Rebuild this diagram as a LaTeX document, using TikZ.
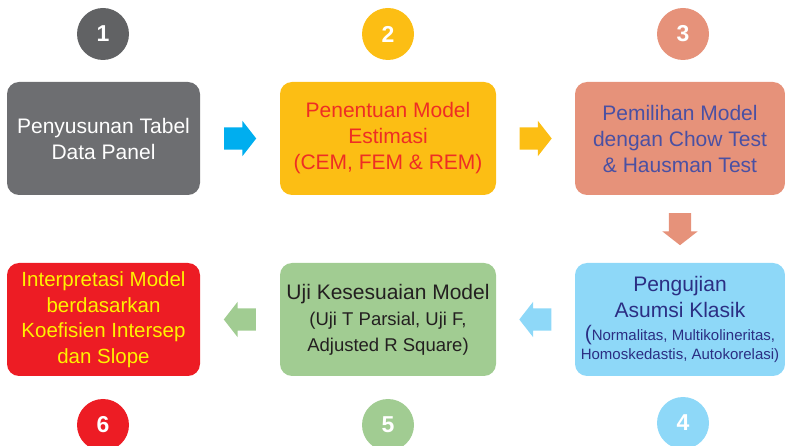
\documentclass[tikz,border=0pt]{standalone}
\usepackage{fontspec}
\setmainfont{Liberation Sans}
\usetikzlibrary{shapes.arrows,calc}

\definecolor{grayBox}{HTML}{6D6E71}
\definecolor{grayDot}{HTML}{616264}
\definecolor{yellowBox}{HTML}{FCBE14}
\definecolor{salmonBox}{HTML}{E6927A}
\definecolor{skyBox}{HTML}{8ED8F8}
\definecolor{greenBox}{HTML}{A1CC92}
\definecolor{redBox}{HTML}{ED1C24}
\definecolor{cyanArrow}{HTML}{00AEEF}
\definecolor{redText}{HTML}{EE2E24}
\definecolor{blueText}{HTML}{4A50A3}
\definecolor{navyText}{HTML}{2B2E83}
\definecolor{darkText}{HTML}{231F20}
\definecolor{yellowText}{HTML}{FFF200}

\begin{document}
\begin{tikzpicture}[
            x=1pt, y=-1pt,
            stepbox/.style={rounded corners=12pt, inner sep=2pt, align=center, minimum height=113pt,
                            font=\fontsize{21}{26}\selectfont},
            numdot/.style={circle, minimum size=52pt, inner sep=0pt, text=white,
                           font=\fontsize{23}{23}\selectfont\bfseries},
            blockarrow/.style={single arrow, anchor=tail, minimum height=32pt, inner xsep=0pt, inner ysep=11pt,
                               single arrow head extend=6.5pt, single arrow tip angle=104}
                           ]
            % 1. Fix the canvas
            \useasboundingbox (0,0) rectangle (785,446);

            % 2. The six step boxes
            \node[stepbox, fill=grayBox, text=white, minimum width=193pt] (tabel) at (103.5,138.5)
                {Penyusunan Tabel\\Data Panel};
            \node[stepbox, fill=yellowBox, text=redText, minimum width=216pt] (estimasi) at (388,138.5)
                {Penentuan Model\\Estimasi\\(CEM, FEM \& REM)};
            \node[stepbox, fill=salmonBox, text=blueText, minimum width=210pt] (pemilihan) at (680,138.5)
                {Pemilihan Model\\dengan Chow Test\\\& Hausman Test};
            \node[stepbox, fill=skyBox, text=navyText, minimum width=210pt] (asumsi) at (680,319.5)
                {Pengujian\\Asumsi Klasik\\[-3pt]
                 {\fontsize{15}{19}\selectfont{\fontsize{21}{19}\selectfont(}Normalitas, Multikolineritas,}\\[-7pt]
                 {\fontsize{15}{19}\selectfont Homoskedastis, Autokorelasi)}};
            \node[stepbox, fill=greenBox, text=darkText, minimum width=216pt] (uji) at (388,319.5)
                {Uji Kesesuaian Model\\
                 {\fontsize{18.5}{26}\selectfont (Uji T Parsial, Uji F,}\\
                 {\fontsize{18.5}{26}\selectfont Adjusted R Square)}};
            \node[stepbox, fill=redBox, text=yellowText, minimum width=193pt,
                  font=\fontsize{20.5}{25.5}\selectfont] (interpretasi) at (103.5,319.5)
                {Interpretasi Model\\berdasarkan\\Koefisien Intersep\\dan Slope};

            % 3. Number circles
            \foreach \n/\x/\y/\c in {1/103/34/grayDot, 2/388/34/yellowBox, 3/683/34/salmonBox,
                                     4/683/423/skyBox, 5/388/425/greenBox, 6/103/425/redBox} {
                \node[numdot, fill=\c] (num\n) at (\x,\y) {\n};
            }

            % 4. Block arrows between the boxes (tail placed 16pt before the gap's middle)
            \node[blockarrow, fill=cyanArrow] (arrowA) at ($(tabel.east)!0.5!(estimasi.west)+(-16,0)$) {};
            \node[blockarrow, fill=yellowBox] (arrowB) at ($(estimasi.east)!0.5!(pemilihan.west)+(-16,0)$) {};
            \node[blockarrow, fill=salmonBox, rotate=-90] (arrowC) at ($(pemilihan.south)!0.5!(asumsi.north)+(0,-16)$) {};
            \node[blockarrow, fill=skyBox, rotate=180] (arrowD) at ($(asumsi.west)!0.5!(uji.east)+(16,0)$) {};
            \node[blockarrow, fill=greenBox, rotate=180] (arrowE) at ($(uji.west)!0.5!(interpretasi.east)+(16,0)$) {};

        \end{tikzpicture}
\end{document}
